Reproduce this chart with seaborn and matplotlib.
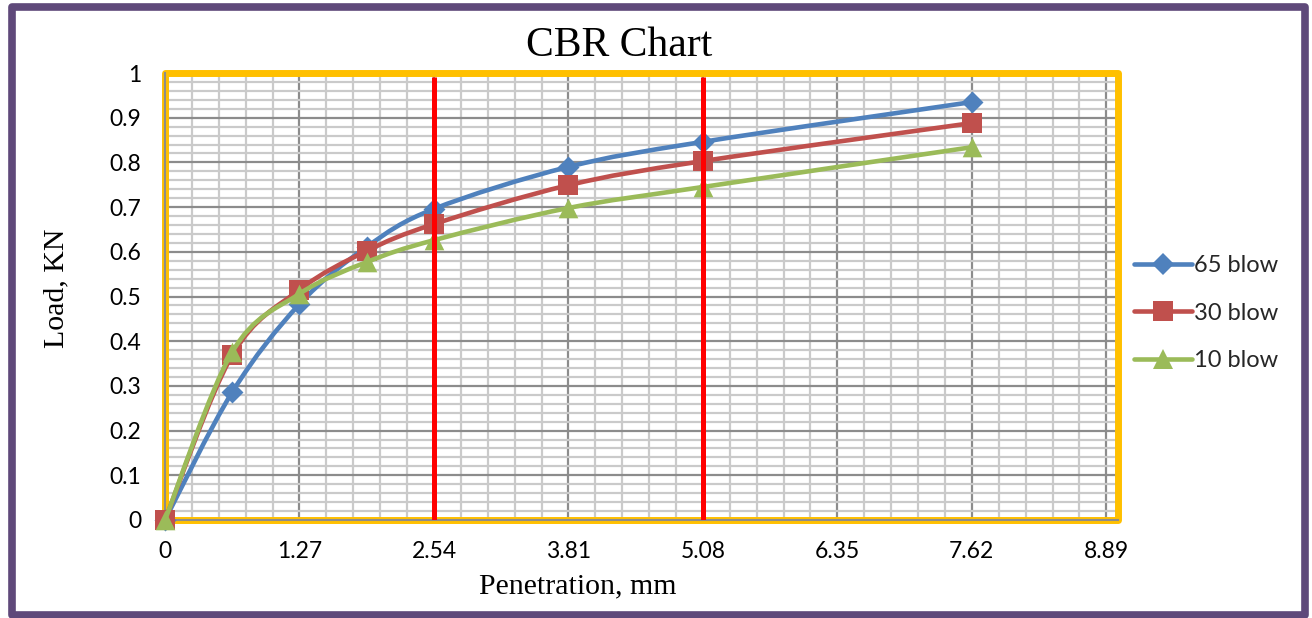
import numpy as np
import pandas as pd
import matplotlib
matplotlib.use("Agg")
import matplotlib.pyplot as plt
from matplotlib.path import Path
from matplotlib.patches import PathPatch, Rectangle
from matplotlib.lines import Line2D
from matplotlib.ticker import MultipleLocator, FixedLocator
import seaborn as sns

# ---- data -------------------------------------------------------------
penetration = [0.0, 0.635, 1.27, 1.905, 2.54, 3.81, 5.08, 7.62]
load_65 = [0.0, 0.286, 0.483, 0.611, 0.696, 0.790, 0.846, 0.935]
load_30 = [0.0, 0.369, 0.515, 0.602, 0.662, 0.749, 0.803, 0.888]
load_10 = [0.0, 0.376, 0.506, 0.577, 0.626, 0.698, 0.745, 0.834]
series_names = ["65 blow", "30 blow", "10 blow"]
x_tick_values = [0, 1.27, 2.54, 3.81, 5.08, 6.35, 7.62, 8.89]
x_tick_labels = ["0", "1.27", "2.54", "3.81", "5.08", "6.35", "7.62", "8.89"]
y_tick_values = [0, 0.1, 0.2, 0.3, 0.4, 0.5, 0.6, 0.7, 0.8, 0.9, 1.0]
y_tick_labels = ["0", "0.1", "0.2", "0.3", "0.4", "0.5", "0.6", "0.7", "0.8", "0.9", "1"]
cbr_penetrations = [2.54, 5.08]
cbr_line_top = 0.99

colors = {"65 blow": "#4F81BD", "30 blow": "#C0504D", "10 blow": "#9BBB59"}
markers = {"65 blow": "D", "30 blow": "s", "10 blow": "^"}
marker_sizes = {"65 blow": 125, "30 blow": 200, "10 blow": 200}
legend_marker_sizes = {"65 blow": 11, "30 blow": 14, "10 blow": 14}

df = pd.DataFrame({
    "Penetration": penetration * 3,
    "Load": load_65 + load_30 + load_10,
    "Series": [n for n in series_names for _ in penetration],
})

sns.set_theme(style="white")
plt.rcParams["font.family"] = ["Lato", "DejaVu Sans"]

W, H = 1312, 618
fig = plt.figure(figsize=(W / 100, H / 100), dpi=100)
fig.patch.set_facecolor("white")

# plot area in pixel terms
px_left, px_right, px_top, px_bottom = 165, 1118, 73, 520
ax = fig.add_axes([px_left / W, 1 - px_bottom / H,
                   (px_right - px_left) / W, (px_bottom - px_top) / H])
ax.set_xlim(0, 9.0)
ax.set_ylim(0, 1.0)


def smooth_path(xs, ys):
    """Cubic Bezier path through the points (Catmull-Rom style smoothing)."""
    pts = np.column_stack([xs, ys]).astype(float)
    n = len(pts)
    verts = [pts[0]]
    codes = [Path.MOVETO]
    for i in range(n - 1):
        p0 = pts[i - 1] if i > 0 else pts[i]
        p1 = pts[i]
        p2 = pts[i + 1]
        p3 = pts[i + 2] if i + 2 < n else pts[i + 1]
        c1 = p1 + (p2 - p0) / 6.0
        c2 = p2 - (p3 - p1) / 6.0
        verts += [c1, c2, p2]
        codes += [Path.CURVE4] * 3
    return Path(verts, codes)


# gridlines
ax.xaxis.set_major_locator(FixedLocator(x_tick_values))
ax.xaxis.set_minor_locator(MultipleLocator(0.254))
ax.yaxis.set_major_locator(FixedLocator(y_tick_values))
ax.yaxis.set_minor_locator(MultipleLocator(0.02))
ax.grid(which="minor", color="#CACACA", linewidth=1.6, linestyle="-")
ax.grid(which="major", color="#8C8C8C", linewidth=1.6, linestyle="-")
ax.set_axisbelow(True)

# smoothed curves with markers, drawn series by series
for k, name in enumerate(series_names):
    sub = df[df["Series"] == name]
    patch = PathPatch(smooth_path(sub["Penetration"], sub["Load"]),
                      facecolor="none", edgecolor=colors[name], linewidth=3.3,
                      capstyle="round", joinstyle="round", zorder=3 + 2 * k)
    ax.add_patch(patch)
    sns.scatterplot(data=sub, x="Penetration", y="Load", ax=ax,
                    color=colors[name], marker=markers[name],
                    s=marker_sizes[name], linewidth=0, legend=False,
                    zorder=4 + 2 * k, clip_on=False)

# CBR reference penetrations
ax.vlines(cbr_penetrations, 0, cbr_line_top, colors="#FF0000", linewidth=3.6, zorder=10)

# axes lines, ticks, labels
for side in ["top", "right"]:
    ax.spines[side].set_visible(False)
for side in ["left", "bottom"]:
    ax.spines[side].set_color("#8C8C8C")
    ax.spines[side].set_linewidth(1.5)
    ax.spines[side].set_zorder(2.6)

ax.set_xticklabels(x_tick_labels)
ax.set_yticklabels(y_tick_labels)
ax.tick_params(which="major", direction="out", length=6, width=1.5,
               color="#8C8C8C", labelsize=16.5, labelcolor="black")
ax.tick_params(axis="x", which="major", pad=9)
ax.tick_params(axis="y", which="major", pad=11)
ax.tick_params(which="minor", length=0)
ax.set_xlabel("")
ax.set_ylabel("")

# plot-area frame
frame = Rectangle((0, 0), 1, 1, transform=ax.transAxes, fill=False,
                  edgecolor="#FFC000", linewidth=5, joinstyle="round",
                  clip_on=False, zorder=2.5)
ax.add_patch(frame)

# chart border
border = Rectangle((11.5 / W, 1 - 615 / H), (1305 - 11.5) / W, (615 - 7) / H,
                   transform=fig.transFigure, fill=False, edgecolor="#5F497A",
                   linewidth=5.5, joinstyle="round", zorder=0)
fig.add_artist(border)

serif = ["Liberation Serif", "DejaVu Serif"]
fig.text(619 / W, 1 - 56 / H, "CBR Chart", family=serif, fontsize=30,
         ha="center", va="baseline", color="black")
fig.text(578 / W, 1 - 593 / H, "Penetration, mm", family=serif, fontsize=21.5,
         ha="center", va="baseline", color="black")
fig.text(56 / W, 1 - 288 / H, "Load, KN", family=serif, fontsize=21.5,
         ha="center", va="center", rotation=90, color="black")

# legend
handles = [Line2D([0], [0], color=colors[n], linewidth=3.3, marker=markers[n],
                  markersize=legend_marker_sizes[n],
                  markeredgewidth=0, solid_capstyle="round")
           for n in series_names]
fig.legend(handles, series_names, loc="center left",
           bbox_to_anchor=(1134 / W, 1 - 313 / H), frameon=False,
           fontsize=17, handlelength=2.45, handletextpad=0.1,
           labelspacing=1.12, borderaxespad=0, borderpad=0)

fig.savefig("out.png", dpi=100, facecolor="white")
